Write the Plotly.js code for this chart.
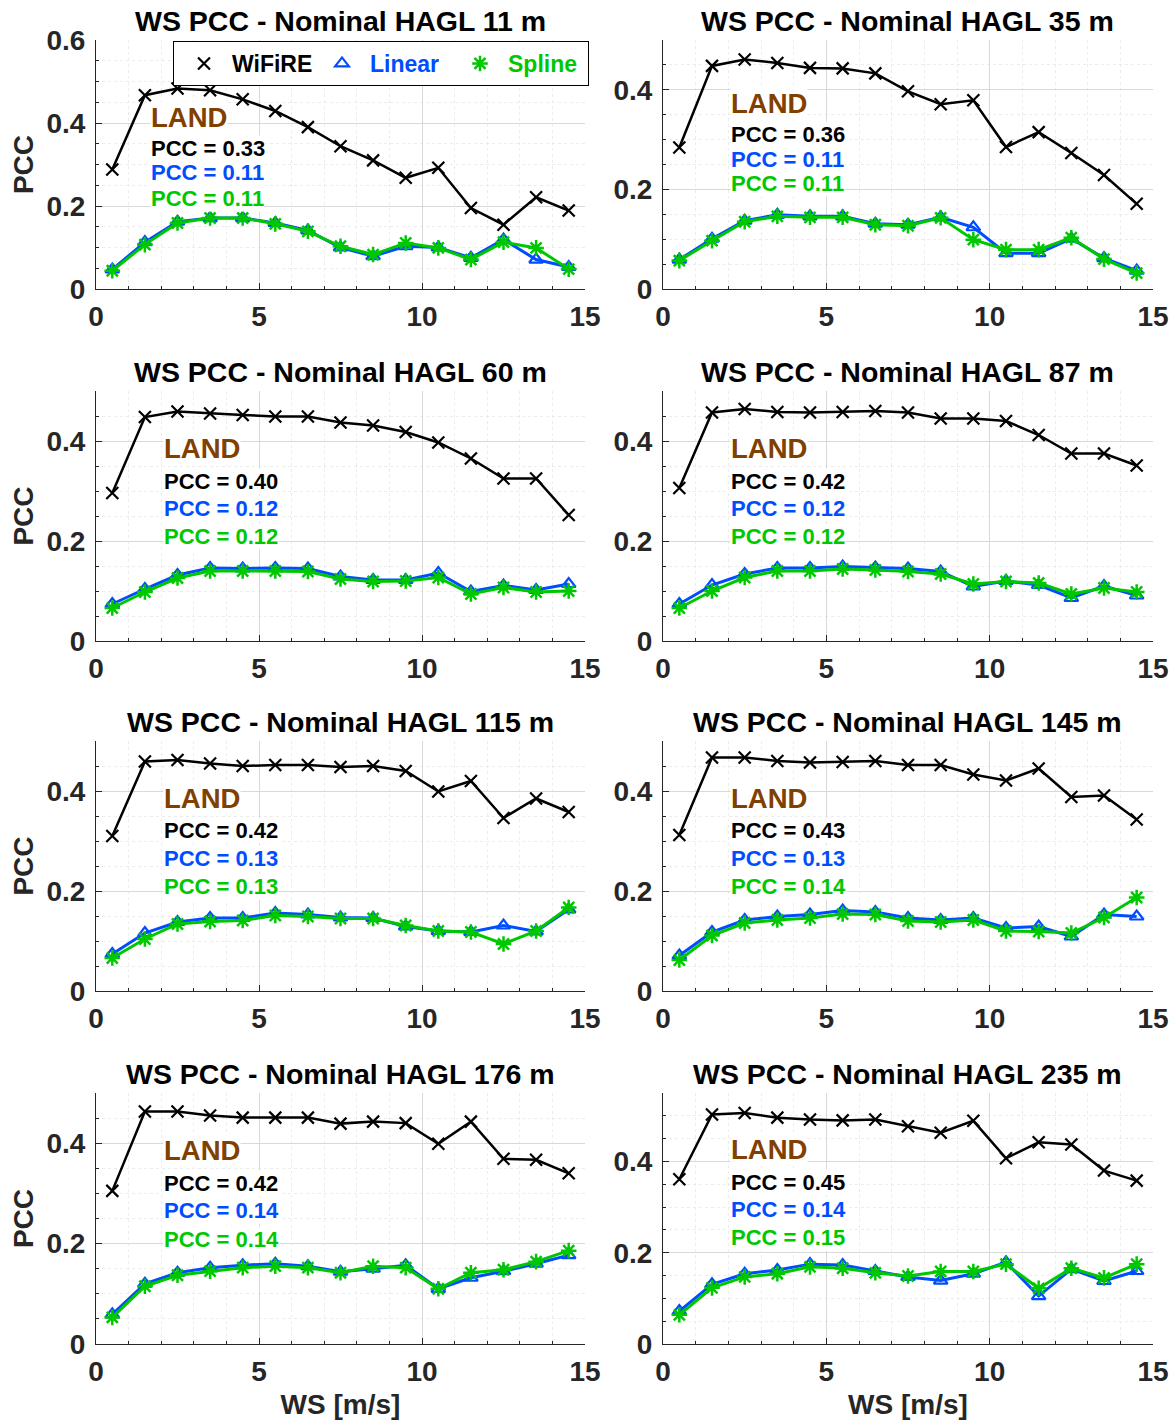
<!DOCTYPE html>
<html>
<head>
<meta charset="utf-8">
<script src="https://cdn.plot.ly/plotly-3.0.1.min.js"></script>
<style>html,body{margin:0;padding:0;background:#fff;}</style>
</head>
<body>
<div id="chart" style="width:1175px;height:1422px;"></div>
<script>
// ---- data ----
const ws = [0.5, 1.5, 2.5, 3.5, 4.5, 5.5, 6.5, 7.5, 8.5, 9.5, 10.5, 11.5, 12.5, 13.5, 14.5];
const heights = [11, 35, 60, 87, 115, 145, 176, 235];

const wifire_11 = [0.288, 0.467, 0.483, 0.479, 0.457, 0.429, 0.390, 0.344, 0.310, 0.268, 0.292, 0.195, 0.155, 0.221, 0.189];
const linear_11 = [0.047, 0.113, 0.162, 0.171, 0.171, 0.159, 0.141, 0.100, 0.079, 0.103, 0.100, 0.075, 0.119, 0.071, 0.053];
const spline_11 = [0.044, 0.107, 0.159, 0.171, 0.171, 0.157, 0.139, 0.103, 0.083, 0.111, 0.099, 0.071, 0.113, 0.099, 0.048];

const wifire_35 = [0.284, 0.448, 0.461, 0.454, 0.444, 0.443, 0.433, 0.397, 0.371, 0.379, 0.285, 0.315, 0.273, 0.229, 0.171];
const linear_35 = [0.059, 0.101, 0.137, 0.149, 0.146, 0.146, 0.131, 0.129, 0.144, 0.124, 0.072, 0.072, 0.101, 0.062, 0.037];
const spline_35 = [0.057, 0.097, 0.135, 0.146, 0.144, 0.144, 0.129, 0.127, 0.143, 0.099, 0.079, 0.079, 0.103, 0.060, 0.032];

const wifire_60 = [0.296, 0.448, 0.459, 0.455, 0.452, 0.449, 0.449, 0.437, 0.431, 0.418, 0.397, 0.365, 0.325, 0.325, 0.252];
const linear_60 = [0.074, 0.104, 0.132, 0.146, 0.145, 0.146, 0.145, 0.129, 0.122, 0.122, 0.136, 0.099, 0.111, 0.102, 0.114];
const spline_60 = [0.066, 0.098, 0.126, 0.140, 0.140, 0.140, 0.139, 0.124, 0.119, 0.120, 0.127, 0.094, 0.107, 0.098, 0.100];

const wifire_87 = [0.306, 0.457, 0.464, 0.458, 0.457, 0.458, 0.460, 0.457, 0.445, 0.445, 0.440, 0.412, 0.375, 0.375, 0.351];
const linear_87 = [0.074, 0.112, 0.134, 0.146, 0.146, 0.149, 0.147, 0.145, 0.139, 0.109, 0.120, 0.112, 0.086, 0.110, 0.091];
const spline_87 = [0.066, 0.100, 0.127, 0.140, 0.140, 0.144, 0.142, 0.139, 0.134, 0.114, 0.119, 0.116, 0.094, 0.106, 0.098];

const wifire_115 = [0.310, 0.459, 0.462, 0.455, 0.450, 0.452, 0.452, 0.448, 0.450, 0.440, 0.399, 0.420, 0.346, 0.385, 0.358];
const linear_115 = [0.074, 0.116, 0.138, 0.146, 0.146, 0.156, 0.153, 0.147, 0.146, 0.129, 0.120, 0.118, 0.131, 0.119, 0.163];
const spline_115 = [0.066, 0.104, 0.134, 0.139, 0.141, 0.151, 0.149, 0.145, 0.145, 0.131, 0.120, 0.118, 0.094, 0.120, 0.167];

const wifire_145 = [0.312, 0.467, 0.467, 0.460, 0.457, 0.458, 0.460, 0.452, 0.452, 0.433, 0.421, 0.445, 0.388, 0.391, 0.343];
const linear_145 = [0.071, 0.118, 0.142, 0.149, 0.153, 0.161, 0.158, 0.146, 0.142, 0.146, 0.126, 0.129, 0.109, 0.153, 0.149];
const spline_145 = [0.062, 0.111, 0.136, 0.142, 0.146, 0.154, 0.153, 0.140, 0.138, 0.142, 0.120, 0.119, 0.116, 0.147, 0.187];

const wifire_176 = [0.305, 0.463, 0.463, 0.455, 0.451, 0.451, 0.451, 0.439, 0.443, 0.440, 0.399, 0.443, 0.369, 0.367, 0.340];
const linear_176 = [0.059, 0.120, 0.142, 0.152, 0.157, 0.160, 0.155, 0.144, 0.150, 0.157, 0.110, 0.132, 0.145, 0.160, 0.177];
const spline_176 = [0.053, 0.115, 0.137, 0.145, 0.152, 0.155, 0.152, 0.142, 0.155, 0.152, 0.110, 0.142, 0.148, 0.164, 0.186];

const wifire_235 = [0.361, 0.503, 0.506, 0.496, 0.492, 0.490, 0.492, 0.477, 0.463, 0.489, 0.407, 0.442, 0.437, 0.380, 0.358];
const linear_235 = [0.072, 0.131, 0.154, 0.162, 0.175, 0.173, 0.160, 0.147, 0.139, 0.154, 0.179, 0.105, 0.164, 0.138, 0.160];
const spline_235 = [0.064, 0.123, 0.147, 0.154, 0.169, 0.166, 0.156, 0.149, 0.159, 0.159, 0.175, 0.122, 0.166, 0.145, 0.175];

const pccWifire = [0.33, 0.36, 0.40, 0.42, 0.42, 0.43, 0.42, 0.45];
const pccLinear = [0.11, 0.11, 0.12, 0.12, 0.13, 0.13, 0.14, 0.14];
const pccSpline = [0.11, 0.11, 0.12, 0.12, 0.13, 0.14, 0.14, 0.15];

const wifireSets = [wifire_11, wifire_35, wifire_60, wifire_87, wifire_115, wifire_145, wifire_176, wifire_235];
const linearSets = [linear_11, linear_35, linear_60, linear_87, linear_115, linear_145, linear_176, linear_235];
const splineSets = [spline_11, spline_35, spline_60, spline_87, spline_115, spline_145, spline_176, spline_235];

// ---- style / layout ----
const FONT = 'Liberation Sans, Arial, Helvetica, sans-serif';
const BLACK = '#000000';
const BLUE = 'rgb(0,77,255)';
const GREEN = 'rgb(0,200,0)';
const BROWN = 'rgb(128,64,0)';
const AX = '#262626';

const W = 1175, H = 1422;
const colPx = [[96, 585], [663, 1153]];
const rowPx = [[40, 289], [391, 641], [741, 991], [1093, 1344]];
const yMax = [0.6, 0.5, 0.5, 0.5, 0.5, 0.5, 0.5, 0.55];
// label block positions (fractions of axis domain)
const landX = [0.110, 0.137, 0.137, 0.137, 0.137, 0.137, 0.137, 0.137];
const landY = [0.687, 0.743, 0.772, 0.772, 0.772, 0.772, 0.769, 0.773];
const pccY = [[0.566, 0.466, 0.365], [0.622, 0.522, 0.422], [0.640, 0.532, 0.420], [0.640, 0.532, 0.420],
              [0.644, 0.532, 0.420], [0.644, 0.532, 0.420], [0.641, 0.530, 0.418], [0.645, 0.534, 0.426]];

const traces = [];
const layout = {
  width: W, height: H,
  margin: {l: 0, r: 0, t: 0, b: 0},
  paper_bgcolor: '#ffffff', plot_bgcolor: '#ffffff',
  font: {family: FONT, color: AX},
  showlegend: true,
  legend: {
    orientation: 'h',
    x: 173 / W, y: 1 - 41 / H, xanchor: 'left', yanchor: 'top',
    bgcolor: '#ffffff', bordercolor: '#000000', borderwidth: 1,
    font: {family: FONT, size: 23, weight: 'bold', color: BLACK},
    entrywidth: 75, entrywidthmode: 'pixels',
    indentation: 2,
    itemwidth: 46, tracegroupgap: 0
  },
  annotations: []
};

for (let i = 0; i < 8; i++) {
  const col = i % 2, row = Math.floor(i / 2);
  const xid = i === 0 ? 'x' : 'x' + (i + 1);
  const yid = i === 0 ? 'y' : 'y' + (i + 1);
  const xkey = i === 0 ? 'xaxis' : 'xaxis' + (i + 1);
  const ykey = i === 0 ? 'yaxis' : 'yaxis' + (i + 1);
  const xd = [colPx[col][0] / W, colPx[col][1] / W];
  const yd = [1 - rowPx[row][1] / H, 1 - rowPx[row][0] / H];

  layout[xkey] = {
    domain: xd, anchor: yid, range: [0, 15], tick0: 0, dtick: 5,
    showline: true, linecolor: AX, linewidth: 1, mirror: false,
    ticks: 'inside', ticklen: 6, tickcolor: AX,
    showgrid: true, gridcolor: '#d9d9d9', gridwidth: 1, zeroline: false,
    minor: {dtick: 1, showgrid: true, gridcolor: '#ececec', griddash: 'dot', ticks: 'inside', ticklen: 3, tickcolor: AX},
    tickfont: {family: FONT, size: 28, weight: 'bold', color: AX},
    ticklabelstandoff: 2,
    automargin: false, fixedrange: true
  };
  if (row === 3) {
    layout[xkey].title = {text: 'WS [m/s]', font: {family: FONT, size: 28, weight: 'bold', color: AX}, standoff: 8};
  }
  layout[ykey] = {
    domain: yd, anchor: xid, range: [0, yMax[i]], tick0: 0, dtick: 0.2,
    showline: true, linecolor: AX, linewidth: 1, mirror: false,
    ticks: 'inside', ticklen: 6, tickcolor: AX,
    showgrid: true, gridcolor: '#d9d9d9', gridwidth: 1, zeroline: false,
    minor: {dtick: 0.05, showgrid: true, gridcolor: '#ececec', griddash: 'dot', ticks: 'inside', ticklen: 3, tickcolor: AX},
    tickfont: {family: FONT, size: 28, weight: 'bold', color: AX},
    ticklabelstandoff: 4,
    automargin: false, fixedrange: true
  };
  if (col === 0) {
    layout[ykey].title = {text: 'PCC', font: {family: FONT, size: 28, weight: 'bold', color: AX}, standoff: 4};
  }

  traces.push({
    x: ws, y: wifireSets[i], xaxis: xid, yaxis: yid, mode: 'lines+markers', showlegend: false,
    line: {color: BLACK, width: 2.5},
    marker: {symbol: 'x-thin-open', size: 12, color: BLACK, line: {color: BLACK, width: 2.2}}
  });
  traces.push({
    x: ws, y: linearSets[i], xaxis: xid, yaxis: yid, mode: 'lines+markers', showlegend: false,
    line: {color: BLUE, width: 3},
    marker: {symbol: 'triangle-up-open', size: 12, color: BLUE, line: {color: BLUE, width: 2.2}}
  });
  traces.push({
    x: ws, y: splineSets[i], xaxis: xid, yaxis: yid, mode: 'lines+markers', showlegend: false,
    line: {color: GREEN, width: 3},
    marker: {symbol: 'asterisk-open', size: 13, color: GREEN, line: {color: GREEN, width: 2.5}}
  });

  // subplot title
  layout.annotations.push({
    xref: xid + ' domain', yref: yid + ' domain', x: 0.5, y: 1, xanchor: 'center', yanchor: 'bottom',
    yshift: 1, showarrow: false,
    text: 'WS PCC - Nominal HAGL ' + heights[i] + ' m',
    font: {family: FONT, size: 28.5, weight: 'bold', color: '#000000'}
  });
  // LAND + PCC labels
  layout.annotations.push({
    xref: xid + ' domain', yref: yid + ' domain', x: landX[i], y: landY[i], xanchor: 'left', yanchor: 'middle',
    showarrow: false, text: 'LAND', bgcolor: '#ffffff', borderpad: 0,
    font: {family: FONT, size: 27.5, weight: 'bold', color: BROWN}
  });
  const pccVals = [pccWifire[i], pccLinear[i], pccSpline[i]];
  const pccCols = [BLACK, BLUE, GREEN];
  for (let k = 0; k < 3; k++) {
    layout.annotations.push({
      xref: xid + ' domain', yref: yid + ' domain', x: landX[i], y: pccY[i][k], xanchor: 'left', yanchor: 'middle',
      showarrow: false, text: 'PCC = ' + pccVals[k].toFixed(2), bgcolor: '#ffffff', borderpad: 0,
      font: {family: FONT, size: 22, weight: 'bold', color: pccCols[k]}
    });
  }
}

// legend entries (marker only)
traces.push({x: [null], y: [null], xaxis: 'x', yaxis: 'y', mode: 'markers', name: 'WiFiRE',
  marker: {symbol: 'x-thin-open', size: 12, color: BLACK, line: {color: BLACK, width: 2.2}}});
traces.push({x: [null], y: [null], xaxis: 'x', yaxis: 'y', mode: 'markers',
  name: '<span style="color:' + BLUE + '">Linear</span>',
  marker: {symbol: 'triangle-up-open', size: 12, color: BLUE, line: {color: BLUE, width: 2.2}}});
traces.push({x: [null], y: [null], xaxis: 'x', yaxis: 'y', mode: 'markers',
  name: '<span style="color:' + GREEN + '">Spline</span>',
  marker: {symbol: 'asterisk-open', size: 13, color: GREEN, line: {color: GREEN, width: 2.5}}});

Plotly.newPlot('chart', traces, layout, {staticPlot: true, displayModeBar: false});
</script>
</body>
</html>
